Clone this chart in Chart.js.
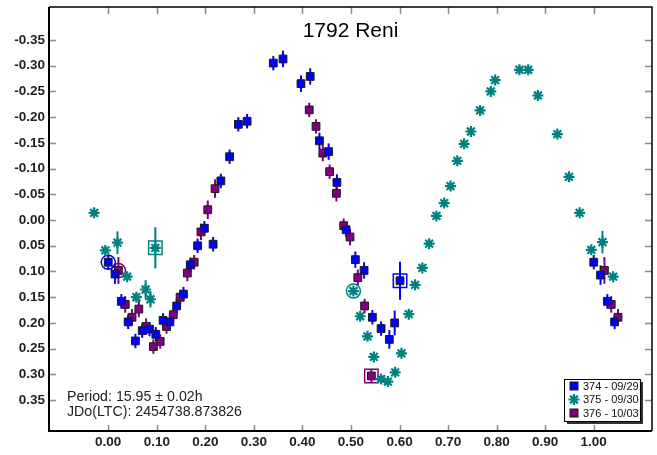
<!DOCTYPE html>
<html>
<head>
<meta charset="utf-8">
<title>1792 Reni</title>
<script src="https://cdn.jsdelivr.net/npm/chart.js@4.4.1/dist/chart.umd.min.js"></script>
<style>
    html, body { margin: 0; padding: 0; background: #ffffff; }
    #wrap { width: 657px; height: 455px; position: relative; }
</style>
</head>
<body>
<div id="wrap"><canvas id="lightcurve"></canvas></div>
<script>
// Session 374 - 09/29
const phase374 = [0.000, 0.014, 0.027, 0.041, 0.056, 0.070, 0.085, 0.098, 0.113, 0.127,
    0.141, 0.155, 0.169, 0.184, 0.198, 0.216, 0.232, 0.250, 0.268, 0.286,
    0.340, 0.360, 0.397, 0.416, 0.435, 0.454, 0.471, 0.490, 0.509, 0.527,
    0.544, 0.562, 0.579, 0.590, 0.601, 1.000, 1.014, 1.028, 1.043];
const mag374 = [0.082, 0.105, 0.158, 0.198, 0.235, 0.215, 0.212, 0.222, 0.195, 0.198,
    0.167, 0.144, 0.087, 0.050, 0.016, 0.047, -0.076, -0.123, -0.186, -0.192,
    -0.305, -0.313, -0.265, -0.279, -0.154, -0.133, -0.073, 0.019, 0.077, 0.098,
    0.189, 0.211, 0.232, 0.200, 0.118, 0.082, 0.107, 0.158, 0.198];
const err374 = [0.014, 0.019, 0.014, 0.014, 0.014, 0.014, 0.014, 0.014, 0.014, 0.014,
    0.014, 0.014, 0.014, 0.014, 0.014, 0.014, 0.014, 0.014, 0.014, 0.014,
    0.014, 0.016, 0.016, 0.016, 0.016, 0.016, 0.016, 0.014, 0.016, 0.016,
    0.014, 0.014, 0.018, 0.024, 0.037, 0.014, 0.019, 0.014, 0.014];

// Session 375 - 09/30
const phase375 = [-0.029, -0.006, 0.019, 0.039, 0.058, 0.077, 0.087, 0.097,
    0.505, 0.519, 0.534, 0.547, 0.562, 0.576, 0.591, 0.604, 0.619, 0.632,
    0.647, 0.661, 0.676, 0.692, 0.705, 0.719, 0.733, 0.747, 0.766, 0.788,
    0.797, 0.847, 0.865, 0.885, 0.925, 0.949, 0.971, 0.995, 1.018, 1.040];
const mag375 = [-0.014, 0.059, 0.044, 0.110, 0.150, 0.135, 0.154, 0.054,
    0.138, 0.187, 0.226, 0.266, 0.309, 0.314, 0.296, 0.259, 0.183, 0.126,
    0.093, 0.046, -0.008, -0.033, -0.066, -0.115, -0.148, -0.172, -0.213, -0.250,
    -0.272, -0.292, -0.292, -0.242, -0.167, -0.084, -0.014, 0.058, 0.043, 0.110];
const err375 = [0.004, 0.006, 0.022, 0.006, 0.008, 0.018, 0.016, 0.040,
    0.006, 0.006, 0.006, 0.006, 0.006, 0.006, 0.008, 0.006, 0.006, 0.006,
    0.006, 0.006, 0.006, 0.006, 0.006, 0.006, 0.006, 0.006, 0.006, 0.006,
    0.006, 0.006, 0.006, 0.006, 0.006, 0.006, 0.006, 0.006, 0.022, 0.006];

// Session 376 - 10/03
const phase376 = [0.021, 0.035, 0.049, 0.063, 0.078, 0.093, 0.107, 0.120, 0.134, 0.148,
    0.163, 0.177, 0.191, 0.205, 0.220, 0.414, 0.428, 0.442, 0.456, 0.470,
    0.485, 0.498, 0.514, 0.528, 0.542, 1.022, 1.036, 1.050];
const mag376 = [0.098, 0.164, 0.189, 0.173, 0.207, 0.246, 0.236, 0.207, 0.184, 0.150,
    0.103, 0.082, 0.023, -0.020, -0.061, -0.214, -0.182, -0.130, -0.094, -0.052,
    0.011, 0.033, 0.112, 0.167, 0.303, 0.098, 0.164, 0.189];
const err376 = [0.026, 0.016, 0.016, 0.016, 0.016, 0.014, 0.014, 0.014, 0.014, 0.014,
    0.016, 0.014, 0.016, 0.018, 0.018, 0.014, 0.014, 0.016, 0.014, 0.016,
    0.014, 0.016, 0.016, 0.014, 0.014, 0.026, 0.016, 0.016];

// first (circled) and last (boxed) point of each session, as indexes
const firstIdx = { s374: 0, s375: 8, s376: 0 };
const lastIdx = { s374: 34, s375: 7, s376: 24 };

const xTicks = [0.00, 0.10, 0.20, 0.30, 0.40, 0.50, 0.60, 0.70, 0.80, 0.90, 1.00];
const yTicks = [-0.35, -0.30, -0.25, -0.20, -0.15, -0.10, -0.05, 0.00,
    0.05, 0.10, 0.15, 0.20, 0.25, 0.30, 0.35];

const chartTitle = '1792 Reni';
const infoLines = ['Period: 15.95 \u00b1 0.02h', 'JDo(LTC): 2454738.873826'];
const sessionLabels = ['374 - 09/29', '375 - 09/30', '376 - 10/03'];

const BLUE = '#0000ff';
const TEAL = '#008080';
const PURPLE = '#800080';
const FONT = 'Arial, "Liberation Sans", sans-serif';

function toPoints(xs, ys) {
    return xs.map((x, i) => ({ x: x, y: ys[i] }));
}

const sessions = [
    { key: 's374', label: sessionLabels[0], color: BLUE, style: 'rect', xs: phase374, ys: mag374, err: err374 },
    { key: 's375', label: sessionLabels[1], color: TEAL, style: 'star', xs: phase375, ys: mag375, err: err375 },
    { key: 's376', label: sessionLabels[2], color: PURPLE, style: 'rect', xs: phase376, ys: mag376, err: err376 }
];

function buildDatasets() {
    const sets = sessions.map(s => ({
        label: s.label,
        data: toPoints(s.xs, s.ys),
        errors: s.err,
        pointStyle: s.style,
        pointRadius: 5.5,
        pointHoverRadius: 5.5,
        backgroundColor: s.color,
        borderColor: s.style === 'star' ? s.color : '#1a1a1a',
        pointBorderWidth: s.style === 'star' ? 2.2 : 1,
        errColor: s.color
    }));
    // open circle round each session's first point, open square round its last
    sessions.forEach(s => {
        const a = firstIdx[s.key], b = lastIdx[s.key];
        sets.push({
            label: '',
            data: [{ x: s.xs[a], y: s.ys[a] }],
            pointStyle: 'circle',
            pointRadius: 7,
            backgroundColor: 'rgba(0,0,0,0)',
            borderColor: s.color,
            pointBorderWidth: 1.5
        });
        sets.push({
            label: '',
            data: [{ x: s.xs[b], y: s.ys[b] }],
            pointStyle: 'rect',
            pointRadius: 9.5,
            backgroundColor: 'rgba(0,0,0,0)',
            borderColor: s.color,
            pointBorderWidth: 1.5
        });
    });
    return sets;
}

// vertical error bars under each point
const errorBars = {
    id: 'errorBars',
    beforeDatasetsDraw(chart) {
        const { ctx, scales: { x, y } } = chart;
        ctx.save();
        ctx.lineWidth = 2;
        chart.data.datasets.forEach(ds => {
            if (!ds.errors) return;
            ctx.strokeStyle = ds.errColor;
            ds.data.forEach((p, i) => {
                const px = x.getPixelForValue(p.x);
                ctx.beginPath();
                ctx.moveTo(px, y.getPixelForValue(p.y - ds.errors[i]));
                ctx.lineTo(px, y.getPixelForValue(p.y + ds.errors[i]));
                ctx.stroke();
            });
        });
        ctx.restore();
    }
};

// frame, inward ticks, tick labels, title, info text and the boxed legend
const decorations = {
    id: 'decorations',
    afterDraw(chart) {
        const { ctx, chartArea: a, scales: { x, y } } = chart;
        ctx.save();

        // tick marks on all four sides
        ctx.strokeStyle = '#8a8a8a';
        ctx.lineWidth = 1.5;
        ctx.beginPath();
        xTicks.forEach(v => {
            const px = Math.round(x.getPixelForValue(v)) + 0.5;
            ctx.moveTo(px, a.bottom); ctx.lineTo(px, a.bottom - 6);
            ctx.moveTo(px, a.top); ctx.lineTo(px, a.top + 7);
        });
        yTicks.forEach(v => {
            const py = Math.round(y.getPixelForValue(v)) + 0.5;
            ctx.moveTo(a.left, py); ctx.lineTo(a.left + 7, py);
            ctx.moveTo(a.right, py); ctx.lineTo(a.right - 7, py);
        });
        ctx.stroke();

        // tick labels
        ctx.fillStyle = '#222';
        ctx.font = 'bold 13.5px ' + FONT;
        ctx.textBaseline = 'middle';
        ctx.textAlign = 'center';
        xTicks.forEach(v => ctx.fillText(v.toFixed(2), x.getPixelForValue(v), a.bottom + 11));
        ctx.textAlign = 'right';
        yTicks.forEach(v => ctx.fillText(v.toFixed(2), a.left - 4, y.getPixelForValue(v)));

        // frame
        ctx.strokeStyle = '#000';
        ctx.lineWidth = 1.5;
        ctx.beginPath();
        ctx.moveTo(a.left, a.top); ctx.lineTo(a.right, a.top); ctx.lineTo(a.right, a.bottom);
        ctx.stroke();
        ctx.lineWidth = 2;
        ctx.beginPath();
        ctx.moveTo(a.left, a.top); ctx.lineTo(a.left, a.bottom); ctx.lineTo(a.right, a.bottom);
        ctx.stroke();

        // title
        ctx.fillStyle = '#000';
        ctx.font = '21px ' + FONT;
        ctx.textAlign = 'center';
        ctx.textBaseline = 'middle';
        ctx.fillText(chartTitle, (a.left + a.right) / 2, 31);

        // period / epoch
        ctx.fillStyle = '#222';
        ctx.font = '14.2px ' + FONT;
        ctx.textAlign = 'left';
        ctx.fillText(infoLines[0], 67, 397);
        ctx.fillText(infoLines[1], 67, 412);

        // legend box with shadow
        const lx = 564, ly = 379, lw = 76, lh = 42;
        ctx.fillStyle = '#333';
        ctx.fillRect(lx + 3, ly + 3, lw, lh);
        ctx.fillStyle = '#fff';
        ctx.fillRect(lx, ly, lw, lh);
        ctx.strokeStyle = '#000';
        ctx.lineWidth = 1;
        ctx.strokeRect(lx + 0.5, ly + 0.5, lw, lh);

        ctx.font = '11px ' + FONT;
        ctx.textBaseline = 'middle';
        sessions.forEach((s, i) => {
            const cy = ly + 7 + i * 13.5;
            const cx = lx + 10;
            if (s.style === 'star') {
                ctx.strokeStyle = s.color;
                ctx.lineWidth = 2.2;
                ctx.beginPath();
                const r = 5.5;
                for (let k = 0; k < 4; k++) {
                    const ang = k * Math.PI / 4;
                    ctx.moveTo(cx - r * Math.cos(ang), cy - r * Math.sin(ang));
                    ctx.lineTo(cx + r * Math.cos(ang), cy + r * Math.sin(ang));
                }
                ctx.stroke();
            } else {
                ctx.fillStyle = s.color;
                ctx.fillRect(cx - 4, cy - 4, 8, 8);
                ctx.strokeStyle = '#1a1a1a';
                ctx.lineWidth = 1;
                ctx.strokeRect(cx - 4, cy - 4, 8, 8);
            }
            ctx.fillStyle = '#111';
            ctx.fillText(s.label, lx + 19, cy + 0.5);
        });

        ctx.restore();
    }
};

new Chart(document.getElementById('lightcurve'), {
    type: 'scatter',
    data: { datasets: buildDatasets() },
    options: {
        responsive: true,
        maintainAspectRatio: false,
        animation: false,
        layout: { autoPadding: false, padding: { top: 7, right: 5, left: 0, bottom: 0 } },
        plugins: {
            legend: { display: false },
            tooltip: { enabled: false },
            title: { display: false }
        },
        scales: {
            x: {
                type: 'linear',
                min: -0.122,
                max: 1.12,
                afterBuildTicks: scale => { scale.ticks = xTicks.map(v => ({ value: v })); },
                afterFit: scale => { scale.height = 24; },
                grid: { display: false },
                border: { display: false },
                ticks: { display: false }
            },
            y: {
                type: 'linear',
                reverse: true,
                min: -0.414,
                max: 0.41,
                afterBuildTicks: scale => { scale.ticks = yTicks.map(v => ({ value: v })); },
                afterFit: scale => { scale.width = 49; },
                grid: { display: false },
                border: { display: false },
                ticks: { display: false }
            }
        }
    },
    plugins: [errorBars, decorations]
});
</script>
</body>
</html>
